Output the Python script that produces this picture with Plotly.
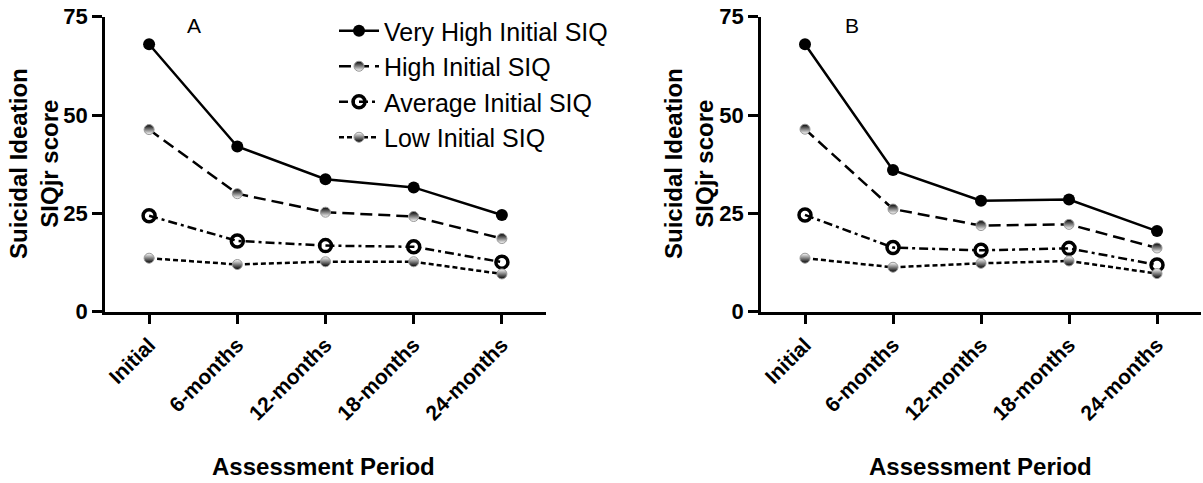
import plotly.graph_objects as go

categories = ["Initial", "6-months", "12-months", "18-months", "24-months"]
series_names = ["Very High Initial SIQ", "High Initial SIQ", "Average Initial SIQ", "Low Initial SIQ"]

a_very_high = [68.0, 42.0, 33.7, 31.6, 24.6]
a_high = [46.3, 30.0, 25.3, 24.2, 18.6]
a_average = [24.4, 18.0, 16.8, 16.5, 12.6]
a_low = [13.6, 12.0, 12.7, 12.7, 9.6]

b_very_high = [68.0, 36.0, 28.2, 28.5, 20.5]
b_high = [46.4, 26.1, 21.9, 22.2, 16.2]
b_average = [24.6, 16.3, 15.6, 16.1, 11.9]
b_low = [13.6, 11.3, 12.3, 12.9, 9.7]

y_ticks = [0, 25, 50, 75]

FONT = "Liberation Sans, Arial, sans-serif"

styles = [
    dict(line=dict(color="black", width=2.5, dash="solid"),
         marker=dict(symbol="circle", size=12, color="black")),
    dict(line=dict(color="black", width=2.5, dash="12px,6px"),
         marker=dict(symbol="circle", size=10, color="black",
                     line=dict(color="#999999", width=1),
                     gradient=dict(type="vertical", color="white"))),
    dict(line=dict(color="black", width=2.5, dash="9px,4px,3px,4px"),
         marker=dict(symbol="circle-open", size=12, color="black",
                     line=dict(color="black", width=3.5))),
    dict(line=dict(color="black", width=2.5, dash="5px,3px"),
         marker=dict(symbol="circle", size=10, color="white",
                     line=dict(color="#999999", width=1),
                     gradient=dict(type="vertical", color="black"))),
]

fig = go.Figure()
panels = [
    ([a_very_high, a_high, a_average, a_low], "x", "y", True),
    ([b_very_high, b_high, b_average, b_low], "x2", "y2", False),
]
for data, xa, ya, show in panels:
    for name, vals, st in zip(series_names, data, styles):
        fig.add_trace(go.Scatter(
            x=categories, y=vals, name=name, mode="lines+markers",
            xaxis=xa, yaxis=ya, showlegend=show,
            line=st["line"], marker=st["marker"], cliponaxis=False,
        ))

W = 1203
H = 483


def px(x):
    return x / W


def py(y):
    return 1 - y / H


y_dom = [py(311.7), py(16.7)]

axis_common = dict(
    showline=True, linecolor="black", linewidth=2.5, mirror=False,
    ticks="outside", ticklen=10, tickwidth=2.5, tickcolor="black",
    showgrid=False, zeroline=False, automargin=False, ticklabeloverflow="allow",
)
xcommon = dict(axis_common, type="category", range=[-0.5, 4.5], tickangle=-45,
               tickfont=dict(family=FONT, size=21, color="black", weight="bold"))
ycommon = dict(axis_common, range=[0, 75], tickvals=y_ticks, ticklabelstandoff=0,
               tickfont=dict(family=FONT, size=22, color="black", weight="bold"))

fig.update_layout(
    width=W, height=H,
    margin=dict(l=0, r=0, t=0, b=0, autoexpand=False),
    paper_bgcolor="white", plot_bgcolor="white",
    font=dict(family=FONT, color="black"),
    xaxis=dict(xcommon, domain=[px(105), px(546)], anchor="y"),
    yaxis=dict(ycommon, domain=y_dom, anchor="x"),
    xaxis2=dict(xcommon, domain=[px(761), px(1201)], anchor="y2"),
    yaxis2=dict(ycommon, domain=y_dom, anchor="x2"),
    legend=dict(x=px(334), y=py(8), xanchor="left", yanchor="top",
                bgcolor="rgba(0,0,0,0)", font=dict(family=FONT, size=25, color="black"),
                tracegroupgap=0, itemwidth=40),
    showlegend=True,
)

annos = [
    dict(text="A", x=px(194), y=py(26)),
    dict(text="B", x=px(852), y=py(26)),
]
for a in annos:
    fig.add_annotation(xref="paper", yref="paper", x=a["x"], y=a["y"], text=a["text"],
                       xanchor="center", yanchor="middle",
                       showarrow=False, font=dict(family=FONT, size=21, color="black"))

for cx, ty in [(34, 164), (689, 164)]:
    fig.add_annotation(xref="paper", yref="paper", x=px(cx), y=py(ty),
                       text="Suicidal Ideation<br>SIQjr score", textangle=-90,
                       xanchor="center", yanchor="middle",
                       showarrow=False,
                       font=dict(family=FONT, size=24, color="black", weight="bold"))
for cx in [323, 980]:
    fig.add_annotation(xref="paper", yref="paper", x=px(cx), y=py(466),
                       text="Assessment Period", showarrow=False,
                       xanchor="center", yanchor="middle",
                       font=dict(family=FONT, size=24, color="black", weight="bold"))

# remove the browser's default 8px page margin so the figure fills the window
fig.write_html("out.html",
               config={"displayModeBar": False},
               post_script="document.body.style.margin='0';document.body.style.overflow='hidden';")
